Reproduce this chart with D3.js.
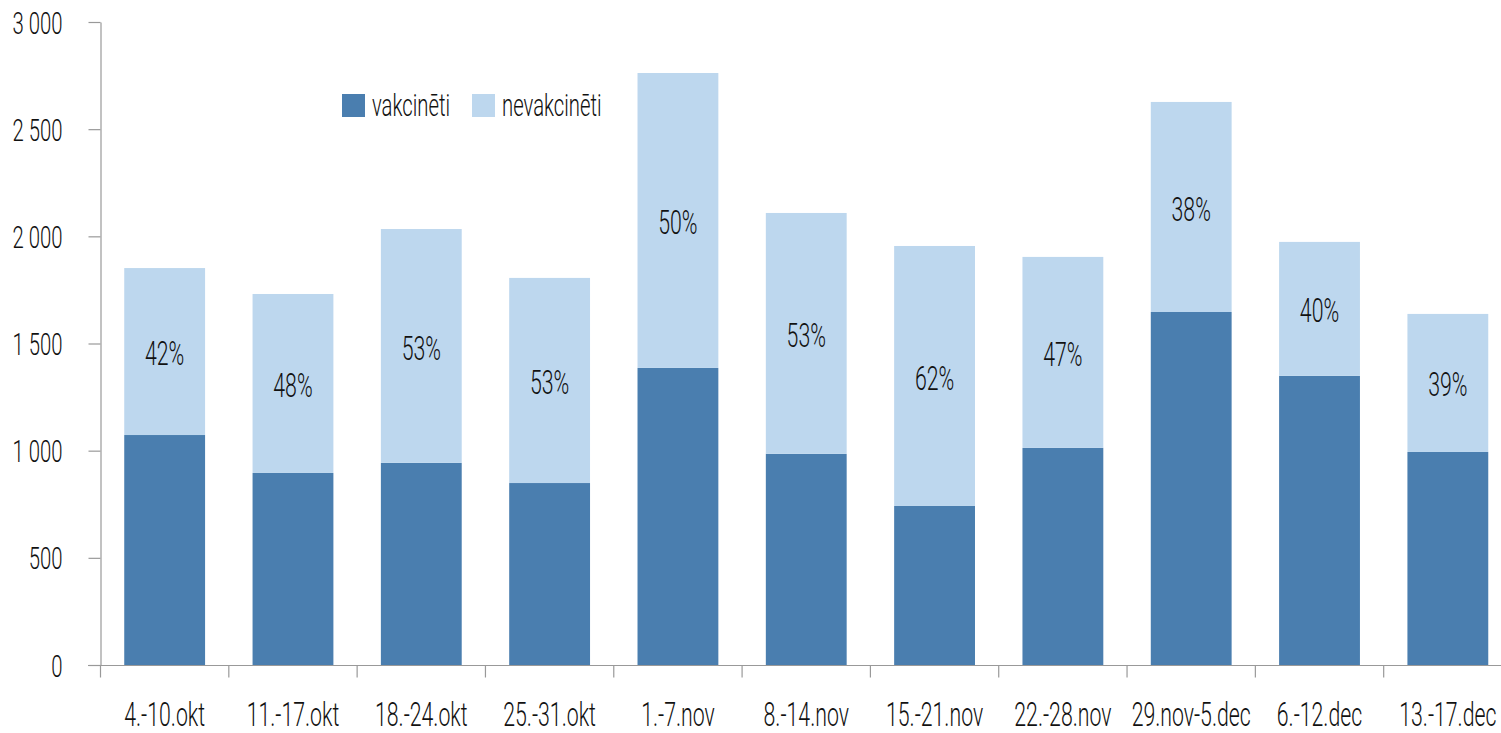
<!DOCTYPE html>
<html><head><meta charset="utf-8">
<script src="https://cdn.jsdelivr.net/npm/d3@7/dist/d3.min.js"></script>
<style>
body{margin:0;background:#fff;}
text{font-family:Roboto,"Liberation Sans",sans-serif;font-weight:300;fill:#111;}
</style></head><body>
<svg id="c" width="1501" height="733"></svg>
<script>
const categories = ["4.-10.okt","11.-17.okt","18.-24.okt","25.-31.okt","1.-7.nov","8.-14.nov","15.-21.nov","22.-28.nov","29.nov-5.dec","6.-12.dec","13.-17.dec"];
const vaccinated = [1073, 896, 943, 849, 1386, 985, 742, 1013, 1647, 1349, 994];
const unvaccinated = [779, 835, 1091, 957, 1376, 1124, 1213, 891, 980, 625, 644];
const shareLabels = ["42%","48%","53%","53%","50%","53%","62%","47%","38%","40%","39%"];
const yTicks = [0,500,1000,1500,2000,2500,3000];
const seriesNames = ["vakcinēti","nevakcinēti"];
const colors = ["#4a7eaf","#bdd7ee"];

const FS = 31.5, SX = 0.645;
function label(parent, tx, ty, str, anchor, size){
  return parent.append("text").attr("transform",`translate(${tx},${ty}) scale(${SX},1)`)
    .attr("text-anchor",anchor).attr("dy","0.35em").attr("font-size",size||FS).text(str);
}

const svg = d3.select("#c");
const x = d3.scaleBand().domain(categories).range([100.5, 1512]).paddingInner(0.37).paddingOuter(0.185);
const y = d3.scaleLinear().domain([0,3000]).range([665, 22]);
const fmt = v => d3.format(",")(v).replace(/,/g, " ");

// y axis
const ya = svg.append("g").attr("transform","translate(100.5,0)")
  .call(d3.axisLeft(y).tickValues(yTicks).tickSize(12).tickSizeOuter(0).tickFormat(fmt));
ya.select(".domain").attr("stroke","#999").attr("stroke-width",1.2);
ya.selectAll(".tick line").attr("stroke","#999").attr("stroke-width",1.2);
ya.selectAll(".tick text").remove();
ya.selectAll(".tick").each(function(d){ label(d3.select(this), -38, 0, fmt(d), "end"); });

// bars
const g = svg.append("g");
categories.forEach((c,i)=>{
  g.append("rect").attr("x",x(c)).attr("width",x.bandwidth())
    .attr("y",y(vaccinated[i])).attr("height",y(0)-y(vaccinated[i])).attr("fill",colors[0]);
  const top = vaccinated[i]+unvaccinated[i];
  g.append("rect").attr("x",x(c)).attr("width",x.bandwidth())
    .attr("y",y(top)).attr("height",y(vaccinated[i])-y(top)).attr("fill",colors[1]);
  label(g, x(c)+x.bandwidth()/2, (y(top)+y(vaccinated[i]))/2+2, shareLabels[i], "middle", 33);
});

// x axis
const xa = svg.append("g").attr("transform","translate(0,665.5)");
xa.append("line").attr("x1",88).attr("x2",1501).attr("stroke","#999").attr("stroke-width",1.2);
const step = x.step();
for (let i=0;i<=categories.length;i++){
  const tx = 100.5 + i*step;
  xa.append("line").attr("x1",tx).attr("x2",tx).attr("y1",0).attr("y2",12).attr("stroke","#999").attr("stroke-width",1.2);
}
categories.forEach(c=>{ label(xa, x(c)+x.bandwidth()/2, 49, c, "middle", 33); });

// legend
const leg = svg.append("g");
const lx = [342, 472];
seriesNames.forEach((n,i)=>{
  leg.append("rect").attr("x",lx[i]).attr("y",94).attr("width",23).attr("height",23).attr("fill",colors[i]);
  label(leg, lx[i]+30, 105, n, "start");
});
</script></body></html>
